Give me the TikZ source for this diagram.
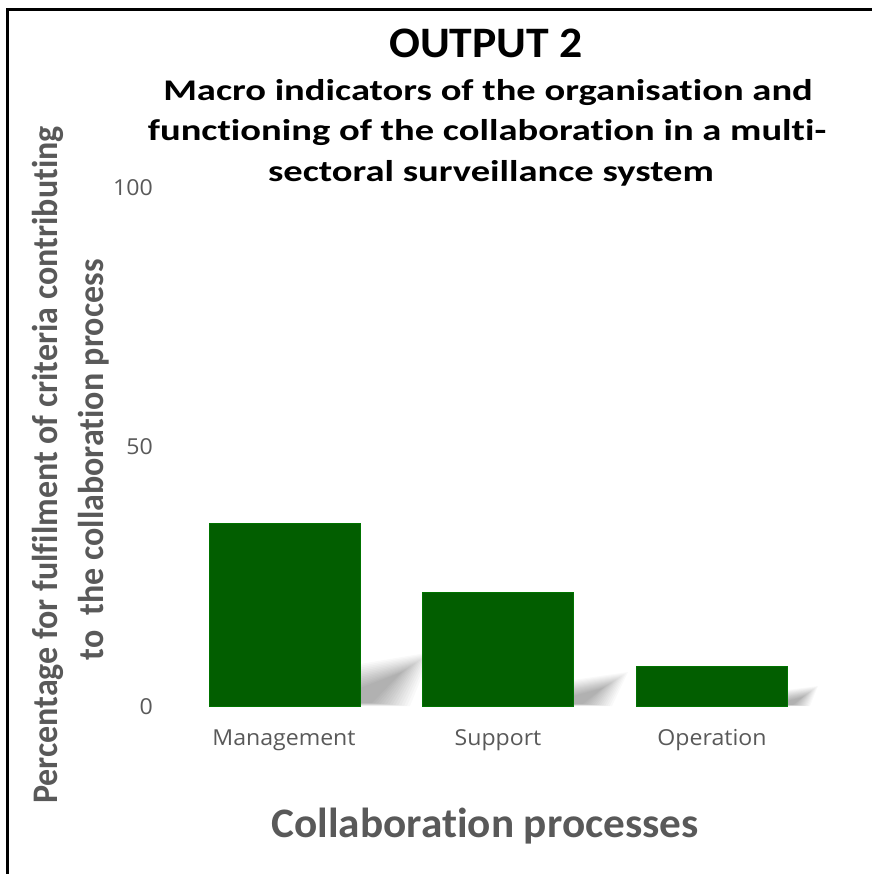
\documentclass[tikz,border=0pt]{standalone}
\usepackage{fontspec}
\setmainfont{Carlito}[Ligatures=CommonOff]
\newfontfamily\tickfont{Open Sans}
\usetikzlibrary{calc}
\definecolor{barGreen}{RGB}{2,94,0}
\definecolor{axisGray}{RGB}{89,89,89}
% soft shadow: layered fills blending an outer and an inner quadrilateral
\newcommand\softshadow[8]{%
  \foreach \k in {0,...,13}{
    \pgfmathsetmacro\t{\k/13}
    \fill[black,opacity=0.022]
      ($(#1)!\t!(#5)$) -- ($(#2)!\t!(#6)$) -- ($(#3)!\t!(#7)$) -- ($(#4)!\t!(#8)$) -- cycle;
  }}
\begin{document}
\begin{tikzpicture}[x=1pt,y=-1pt,
  bar/.style={fill=barGreen,draw=green!45!black,line width=0.4pt},
  tick/.style={text=axisGray,font=\tickfont\fontsize{22}{26}\selectfont,inner sep=0pt,xscale=1.05},
  cat/.style={text=axisGray,font=\tickfont\fontsize{22}{26}\selectfont,inner sep=0pt,anchor=base,xscale=1.05},
  axtitle/.style={text=axisGray,inner sep=0pt,anchor=base},
  heading/.style={inner sep=0pt,anchor=base}]
\useasboundingbox (0,0) rectangle (872,874);
\fill[white] (0,0) rectangle (872,874);

% frame
\draw[line width=3pt] (7.5,874) -- (7.5,9.5) -- (872,9.5);

% titles
\node[heading,font=\bfseries\fontsize{43.5}{48}\selectfont,xscale=1.05] (t1) at (486,58) {OUTPUT 2};
\node[heading,font=\bfseries\fontsize{30}{36}\selectfont,xscale=1.285] (t2a) at (488,101)
  {Macro indicators of the organisation and};
\node[heading,font=\bfseries\fontsize{30}{36}\selectfont,xscale=1.285] (t2b) at (487,141)
  {functioning of the collaboration in a multi-};
\node[heading,font=\bfseries\fontsize{30}{36}\selectfont,xscale=1.285] (t2c) at (491,182)
  {sectoral surveillance system};

% soft shadows behind the bars
\softshadow{360,706}{360,664}{432,652}{410,706}{360,703}{360,688}{402,672}{372,703}
\softshadow{573,706}{573,680}{628,672}{612,706}{573,704}{573,696}{603,688}{583,704}
\softshadow{787,706}{787,690}{818,686}{810,706}{787,705}{787,701}{803,697}{793,705}

% bars
\draw[bar] (209,706) rectangle (360,523);
\draw[bar] (422,706) rectangle (573,592);
\draw[bar] (636,706) rectangle (787,666);

% value axis labels
\node[tick,anchor=east] (y100) at (153,188) {100};
\node[tick,anchor=east] (y50)  at (153,446.5) {50};
\node[tick,anchor=east] (y0)   at (153,707) {0};

% category labels
\node[cat] (c1) at (284,745) {Management};
\node[cat] (c2) at (498,745) {Support};
\node[cat] (c3) at (712,745) {Operation};

% axis titles
\node[axtitle,font=\bfseries\fontsize{42}{46}\selectfont,xscale=1.03] (xt) at (485,837) {Collaboration processes};
\node[axtitle,font=\bfseries\fontsize{36}{40}\selectfont,rotate=90,xscale=0.944] (yt1) at (57,465)
  {Percentage for fulfilment of criteria contributing};
\node[axtitle,font=\bfseries\fontsize{36}{40}\selectfont,rotate=90,xscale=0.944] (yt2) at (103,460)
  {to\ \ the collaboration process};
\end{tikzpicture}
\end{document}
